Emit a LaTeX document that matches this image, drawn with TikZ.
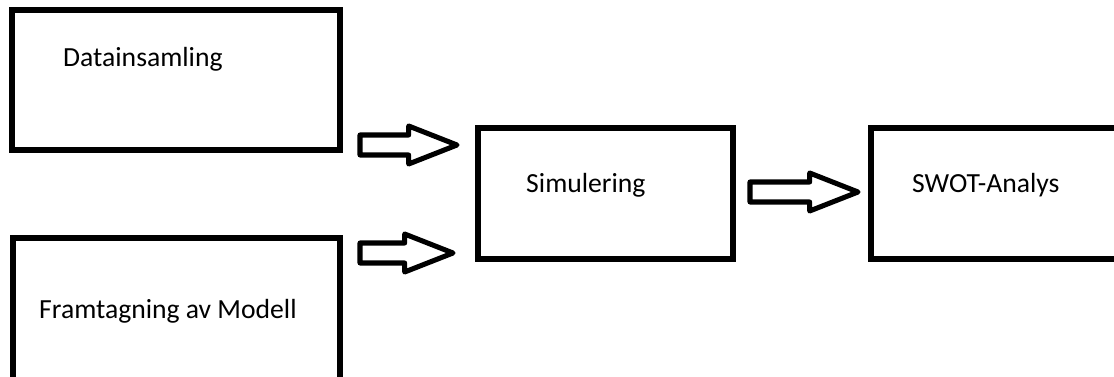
\documentclass[tikz,border=0pt]{standalone}
\usepackage{fontspec}
\setmainfont{Carlito}
\usetikzlibrary{calc,positioning}

\tikzset{
  box/.style={draw,line width=5.1pt,inner sep=0pt},
  lbl/.style={anchor=base west,inner sep=0pt,font=\fontsize{23.6}{28}\selectfont},
  blockarrow/.style={draw,line width=4.3pt,line join=round}
}
\newcommand{\blockarrow}[2]{%
  \draw[blockarrow] let \p1=(#1), \p2=(#2) in
    (\x1,\y1-0.3cm) -- (\x2-1.45cm,\y1-0.3cm) -- (\x2-1.45cm,\y1-0.57cm)
    -- (\x2,\y1) -- (\x2-1.45cm,\y1+0.57cm) -- (\x2-1.45cm,\y1+0.3cm)
    -- (\x1,\y1+0.3cm) -- cycle;}

\begin{document}
\begin{tikzpicture}[x=0.03cm,y=-0.03cm]
\clip (0,0) rectangle (1114,377);
% boxes
\node[box,minimum width=9.84cm,minimum height=4.2cm] (data) at (176,80) {};
\node[box,minimum width=9.81cm,minimum height=4.41cm] (model) at (176.5,311.5) {};
\node[box,minimum width=7.65cm,minimum height=3.93cm] (sim) at (605.5,193.5) {};
\node[box,minimum width=7.62cm,minimum height=3.93cm] (swot) at (998,193.5) {};
% texts
\node[lbl] (datatxt) at (63,67) {Datainsamling};
\node[lbl] (modeltxt) at (39,319) {Framtagning av Modell};
\node[lbl] (simtxt) at (526,193) {Simulering};
\node[lbl] (swottxt) at (912,193) {SWOT-Analys};
% arrows
\coordinate (a1s) at (360,145);
\coordinate (a1e) at (457,145);
\coordinate (a2s) at (360,253);
\coordinate (a2e) at (453,253);
\coordinate (a3s) at (750,192);
\coordinate (a3e) at (858,192);
\blockarrow{a1s}{a1e}
\blockarrow{a2s}{a2e}
\blockarrow{a3s}{a3e}
\end{tikzpicture}
\end{document}
